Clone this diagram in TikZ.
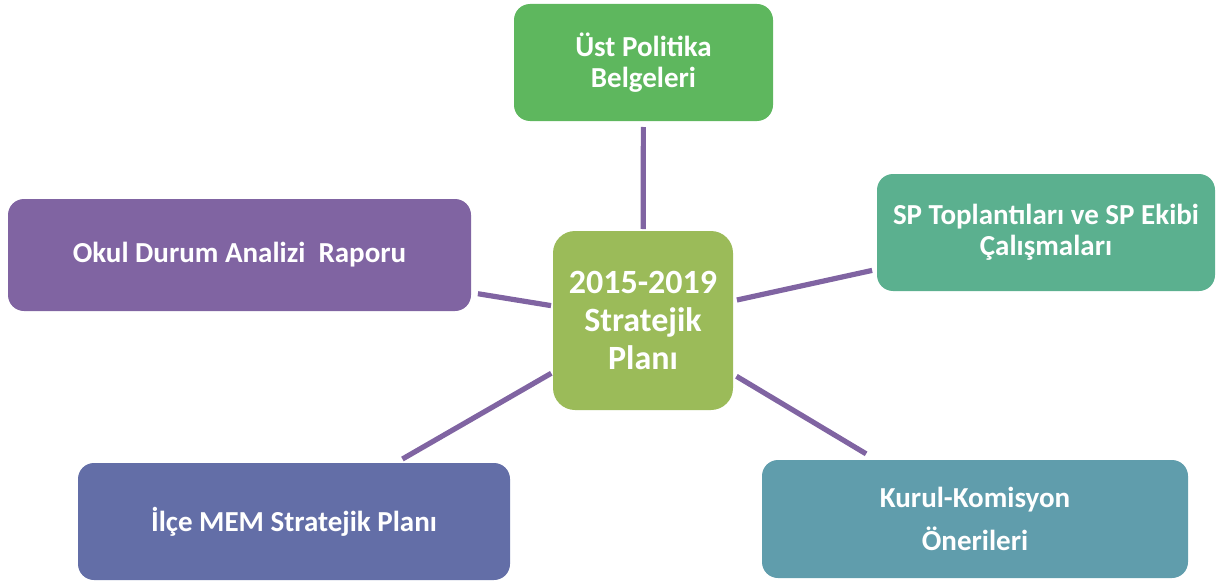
\documentclass[tikz,border=0pt]{standalone}
\usepackage{fontspec}
\setmainfont{Carlito}
\usepackage{tikz}
\usetikzlibrary{positioning}
\definecolor{ustgreen}{RGB}{94,183,94}
\definecolor{plangreen}{RGB}{155,187,89}
\definecolor{okulpurple}{RGB}{128,100,162}
\definecolor{spgreen}{RGB}{91,176,143}
\definecolor{ilceblue}{RGB}{99,110,167}
\definecolor{kurulteal}{RGB}{96,157,172}
\definecolor{linkpurple}{RGB}{128,100,162}

\begin{document}
\begin{tikzpicture}[x=0.5pt,y=-0.5pt]
% Define styles
\tikzstyle{box} = [rectangle, rounded corners=8pt, text=white, font=\bfseries\fontsize{14.5}{15.5}\selectfont, align=center, inner sep=0pt, outer sep=0pt, minimum height=58.5pt]
\tikzstyle{link} = [draw=linkpurple, line width=2.6pt]
\useasboundingbox (0,0) rectangle (1219,583);
% Define nodes
\node[box, fill=plangreen, rounded corners=11pt, minimum width=90pt, minimum height=89.5pt, font=\bfseries\fontsize{17}{19}\selectfont] (plan) at (643,320.5) {2015-2019\\Stratejik\\Planı};
\node[box, fill=ustgreen, minimum width=129.5pt] (ust) at (643.5,62.5) {Üst Politika\\Belgeleri};
\node[box, fill=okulpurple, minimum width=231.5pt, minimum height=56pt] (okul) at (239.5,255) {Okul Durum Analizi~ Raporu};
\node[box, fill=spgreen, minimum width=169pt] (sp) at (1046,232.5) {SP Toplantıları ve SP Ekibi\\Çalışmaları};
\node[box, fill=ilceblue, minimum width=216pt] (ilce) at (294,521.5) {İlçe MEM Stratejik Planı};
\node[box, fill=kurulteal, minimum width=213pt, minimum height=59pt, font=\bfseries\fontsize{14.5}{21.5}\selectfont] (kurul) at (975,519) {Kurul-Komisyon\\Önerileri};
% Connect the nodes
\draw[link, shorten <=3pt, shorten >=1pt] (ust) -- (plan);
\draw[link, shorten <=3.5pt, shorten >=1pt] (okul) -- (plan);
\draw[link, shorten <=2.5pt, shorten >=2pt] (sp) -- (plan);
\draw[link, shorten <=4pt, shorten >=1pt] (ilce) -- (plan);
\draw[link, shorten <=6pt, shorten >=2pt] (kurul) -- (plan);
\end{tikzpicture}
\end{document}
